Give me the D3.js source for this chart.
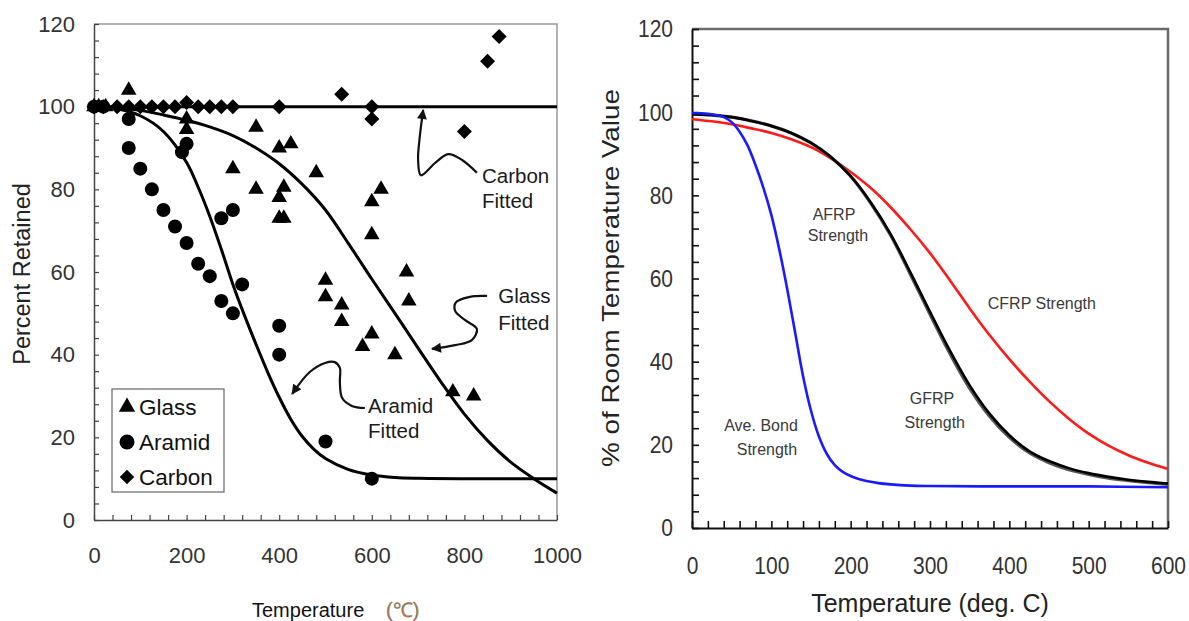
<!DOCTYPE html>
<html>
<head>
<meta charset="utf-8">
<script src="https://cdn.jsdelivr.net/npm/d3@7"></script>
<style>
  body { margin: 0; background: #fff; }
  svg { display: block; font-family: "Liberation Sans", Arial, sans-serif; }
</style>
</head>
<body>
<svg id="fig" width="1189" height="621"></svg>
<script>
// ---------- Left panel: measured retention (temperature °C, % retained) ----------
const glassPts = [[0,100],[10,100],[25,100],[75,104],[200,97],[200,94.5],[300,85],[350,95],[350,80],
  [400,90],[425,91],[410,80.5],[400,78],[400,73],[410,73],[480,84],[500,58],[500,54],[535,52],[535,48],
  [600,77],[620,80],[600,69],[600,45],[580,42],[675,60],[680,53],[650,40],[775,31],[820,30]];
const aramidPts = [[0,100],[20,100],[75,97],[75,90],[100,85],[125,80],[150,75],[175,71],[200,67],[190,89],
  [200,91],[225,62],[250,59],[275,53],[275,73],[300,50],[300,75],[320,57],[400,47],[400,40],[500,19],[600,10]];
const carbonPts = [[0,100],[20,100],[50,100],[75,100],[100,100],[125,100],[150,100],[175,100],[200,101],
  [225,100],[250,100],[275,100],[300,100],[400,100],[535,103],[600,100],[600,97],[800,94],[850,111],[875,117]];

// fitted curves
const glassFit = [[0,100],[50,99.8],[100,99.1],[150,98],[200,96.7],[250,95.1],[300,93],[350,90],[400,86.2],
  [450,81.2],[500,75],[550,66.8],[600,58.3],[650,50],[700,41.6],[750,33.3],[800,25.6],[850,19.2],[900,14],[950,10],[1000,6.5]];
const aramidFit = [[0,100],[50,99.5],[100,97.8],[150,94],[200,86.5],[225,80.5],[250,73.5],[275,65.5],[300,57],
  [325,49.5],[350,42.5],[375,35.8],[400,29.7],[425,24.4],[450,20.2],[475,17.1],[500,14.9],[550,12.2],[600,10.9],
  [650,10.3],[700,10.1],[800,10],[1000,10]];
const carbonFit = [[0,100],[1000,100]];

const leftYTicks = d3.range(0, 121, 4);
const leftXTicks = d3.range(0, 1001, 40);

// ---------- Right panel: % of room temperature value ----------
const bondCurve = [[0,99.8],[20,99.6],[40,98.8],[50,97.6],[60,95.3],[70,92],[80,87.3],[90,81.8],[100,75.3],
  [110,67],[120,57.5],[130,47],[140,36.5],[150,28.2],[160,22],[170,17.8],[180,15.1],[190,13.5],[200,12.5],
  [210,11.8],[220,11.3],[235,10.8],[250,10.5],[275,10.2],[300,10.1],[400,10],[500,10],[600,9.8]];
const cfrpCurve = [[0,98.3],[25,97.8],[50,97.1],[75,96.1],[100,95],[125,93.5],[150,91.6],[175,88.9],[200,85.6],
  [225,81.8],[250,77.2],[275,71.9],[300,66.1],[325,59.6],[350,52.8],[375,46.4],[400,40.6],[425,35.3],[450,30.5],
  [475,26.3],[500,22.7],[525,19.8],[550,17.5],[575,15.7],[600,14.2]];
const afrpCurve = [[0,99.5],[25,99.3],[50,98.8],[75,97.9],[100,96.7],[125,95],[150,92.6],[175,89.2],[200,84.6],
  [225,78.4],[250,70.8],[275,61.6],[300,52],[325,42.7],[350,34.3],[375,27.5],[400,22.3],[425,18.5],[450,16.1],
  [475,14.4],[500,13.2],[525,12.3],[550,11.6],[575,11.1],[600,10.7]];
const gfrpCurve = [[0,99.5],[25,99.3],[50,98.8],[75,97.9],[100,96.7],[125,95],[150,92.6],[175,89.2],[200,84.6],
  [225,78.2],[250,70.5],[275,61.1],[300,51.4],[325,42],[350,33.6],[375,26.9],[400,21.8],[425,18.1],[450,15.7],
  [475,14],[500,12.9],[525,12],[550,11.4],[575,10.9],[600,10.5]];

const rightYTicks = d3.range(0, 121, 4);
const rightXTicks = d3.range(0, 601, 20);

const svg = d3.select("#fig");
const FONT = '"Liberation Sans", Arial, sans-serif';
const smooth = d3.curveCatmullRom.alpha(0.5);

// arrowhead
svg.append("defs").append("marker")
  .attr("id", "head").attr("viewBox", "0 0 10 10").attr("refX", 9).attr("refY", 5)
  .attr("markerWidth", 13).attr("markerHeight", 10).attr("markerUnits", "userSpaceOnUse")
  .attr("orient", "auto")
  .append("path").attr("d", "M0,0 L10,5 L0,10 Z").attr("fill", "#111");

// ================= LEFT PANEL =================
const xL = d3.scaleLinear().domain([0, 1000]).range([94, 557]);
const yL = d3.scaleLinear().domain([0, 120]).range([520, 24]);
const gL = svg.append("g");

gL.append("path")
  .attr("d", `M${xL(0)},${yL(120)}H${xL(1000)}V${yL(0)}`)
  .attr("fill", "none").attr("stroke", "#9a9a9a").attr("stroke-width", 1.5);

function styleAxis(g, col, w, fs, fill) {
  g.attr("font-family", FONT).attr("font-size", fs);
  g.select(".domain").attr("stroke", col).attr("stroke-width", w);
  g.selectAll(".tick line").attr("stroke", col).attr("stroke-width", 1.2);
  g.selectAll(".tick text").attr("fill", fill);
}

gL.append("g").attr("transform", `translate(${xL(0)},0)`)
  .call(d3.axisLeft(yL).tickValues(leftYTicks).tickSize(-5).tickSizeOuter(0).tickPadding(19)
    .tickFormat(d => d % 20 === 0 ? d : ""))
  .call(g => styleAxis(g, "#444", 1.5, 22, "#333"));

gL.append("g").attr("transform", `translate(0,${yL(0)})`)
  .call(d3.axisBottom(xL).tickValues(leftXTicks).tickSize(-5).tickSizeOuter(0).tickPadding(27)
    .tickFormat(d => d % 200 === 0 ? d : ""))
  .call(g => styleAxis(g, "#444", 1.5, 22, "#333"));

// fitted lines
const lineL = d3.line().x(d => xL(d[0])).y(d => yL(d[1])).curve(smooth);
[carbonFit, glassFit, aramidFit].forEach(s => {
  gL.append("path").attr("d", lineL(s)).attr("fill", "none")
    .attr("stroke", "#000").attr("stroke-width", 3);
});

// markers
const triSym = d3.symbol(d3.symbolTriangle, 105);
const sqSym = d3.symbol(d3.symbolSquare, 112);
gL.append("g").selectAll("path").data(glassPts).join("path")
  .attr("d", triSym).attr("transform", d => `translate(${xL(d[0])},${yL(d[1])})`).attr("fill", "#000");
gL.append("g").selectAll("circle").data(aramidPts).join("circle")
  .attr("cx", d => xL(d[0])).attr("cy", d => yL(d[1])).attr("r", 7).attr("fill", "#000");
gL.append("g").selectAll("path").data(carbonPts).join("path")
  .attr("d", sqSym).attr("transform", d => `translate(${xL(d[0])},${yL(d[1])}) rotate(45)`).attr("fill", "#000");

// callouts (temperature, %)
const carbonArrow = [[827,84],[795,87.1],[765,88.5],[737,86.4],[706,83.4],[700,87.1],[704,93.1],[711,99.2]];
const glassArrow = [[849,54.2],[812,54],[782,52.7],[780,50.6],[801,48.4],[827,46.2],[816,43.5],[780,42.3],[730,41.4]];
const aramidArrow = [[585,27.1],[557,27.6],[536,29.5],[531,33.4],[531,36.8],[520,38.2],[499,38],[466,35.8],[428,30.5]];
const arrowLine = d3.line().x(d => xL(d[0])).y(d => yL(d[1])).curve(smooth);
[carbonArrow, glassArrow, aramidArrow].forEach(a => {
  gL.append("path").attr("d", arrowLine(a)).attr("fill", "none")
    .attr("stroke", "#111").attr("stroke-width", 2.2).attr("marker-end", "url(#head)");
});

const leftNotes = [
  ["Carbon", 838, 81.5], ["Fitted", 838, 75.5],
  ["Glass", 873, 52.5], ["Fitted", 873, 46],
  ["Aramid", 592, 25.9], ["Fitted", 592, 19.8]
];
gL.append("g").selectAll("text").data(leftNotes).join("text")
  .attr("x", d => xL(d[1])).attr("y", d => yL(d[2]))
  .attr("font-size", 20.5).attr("fill", "#1a1a1a").text(d => d[0]);

// legend
const lg = gL.append("g");
lg.append("rect").attr("x", 112).attr("y", 389).attr("width", 112).attr("height", 103)
  .attr("fill", "#fff").attr("stroke", "#666").attr("stroke-width", 1.2);
const legendItems = ["Glass", "Aramid", "Carbon"];
legendItems.forEach((name, i) => {
  const cy = 407 + i * 35;
  if (i === 0) lg.append("path").attr("d", d3.symbol(d3.symbolTriangle, 115)()).attr("transform", `translate(127,${cy})`);
  if (i === 1) lg.append("circle").attr("cx", 127).attr("cy", cy).attr("r", 7.5);
  if (i === 2) lg.append("path").attr("d", d3.symbol(d3.symbolSquare, 105)()).attr("transform", `translate(127,${cy}) rotate(45)`);
  lg.append("text").attr("x", 139).attr("y", cy + 8).attr("font-size", 22.5).attr("fill", "#111").text(name);
});

// axis titles
gL.append("text").attr("transform", "translate(30,274) rotate(-90)")
  .attr("text-anchor", "middle").attr("font-size", 23.5).attr("fill", "#222").text("Percent Retained");
const tl = gL.append("text").attr("x", 252).attr("y", 617).attr("font-size", 20).attr("fill", "#111");
tl.append("tspan").text("Temperature");
tl.append("tspan").attr("x", 386).attr("fill", "#b8732e").attr("stroke", "#5577bb").attr("stroke-width", 0.3).text("(℃)");

// ================= RIGHT PANEL =================
const xR = d3.scaleLinear().domain([0, 600]).range([692, 1168]);
const yR = d3.scaleLinear().domain([0, 120]).range([528, 29]);
const gR = svg.append("g");

gR.append("path")
  .attr("d", `M${xR(0)},${yR(120)}H${xR(600)}V${yR(0)}`)
  .attr("fill", "none").attr("stroke", "#6b6b6b").attr("stroke-width", 2.5);

gR.append("g").attr("transform", `translate(${xR(0)},0)`)
  .call(d3.axisLeft(yR).tickValues(rightYTicks).tickSize(-7).tickSizeOuter(0).tickPadding(19)
    .tickFormat(d => d % 20 === 0 ? d : ""))
  .call(g => {
    styleAxis(g, "#111", 2, 21, "#333");
    g.selectAll(".tick line").attr("stroke-width", 1.6);
    g.selectAll(".tick text").attr("transform", "scale(1,1.17)");
  });

gR.append("g").attr("transform", `translate(0,${yR(0)})`)
  .call(d3.axisBottom(xR).tickValues(rightXTicks).tickSize(-7).tickSizeOuter(0).tickPadding(24)
    .tickFormat(d => d % 100 === 0 ? d : ""))
  .call(g => {
    styleAxis(g, "#111", 2, 21, "#333");
    g.selectAll(".tick line").attr("stroke-width", 1.6);
    g.selectAll(".tick text").attr("transform", "scale(1,1.17)");
  });

const lineR = d3.line().x(d => xR(d[0])).y(d => yR(d[1])).curve(smooth);
const rightSeries = [
  { data: cfrpCurve, color: "#ff1a1a", w: 2.6 },
  { data: gfrpCurve, color: "#555", w: 3.2 },
  { data: afrpCurve, color: "#000", w: 2.6 },
  { data: bondCurve, color: "#1a1aff", w: 2.6 }
];
rightSeries.forEach(s => {
  gR.append("path").attr("d", lineR(s.data)).attr("fill", "none")
    .attr("stroke", s.color).attr("stroke-width", s.w).attr("stroke-linejoin", "round");
});

const rightNotes = [
  ["AFRP", 179, 74.1], ["Strength", 184, 69.0],
  ["CFRP Strength", 441, 52.7],
  ["GFRP", 302.5, 29.8], ["Strength", 306, 24.0],
  ["Ave. Bond", 87, 23.3], ["Strength", 94.5, 17.6]
];
gR.append("g").selectAll("text").data(rightNotes).join("text")
  .attr("x", d => xR(d[1])).attr("y", d => yR(d[2])).attr("text-anchor", "middle")
  .attr("font-size", 16).attr("fill", "#3a3a3a").text(d => d[0]);

gR.append("text").attr("transform", "translate(619,278) rotate(-90) scale(1.19,1)")
  .attr("text-anchor", "middle").attr("font-size", 23.4).attr("fill", "#222")
  .text("% of Room Temperature Value");
gR.append("text").attr("x", 930).attr("y", 612).attr("text-anchor", "middle")
  .attr("font-size", 25).attr("fill", "#222").text("Temperature (deg. C)");
</script>
</body>
</html>
